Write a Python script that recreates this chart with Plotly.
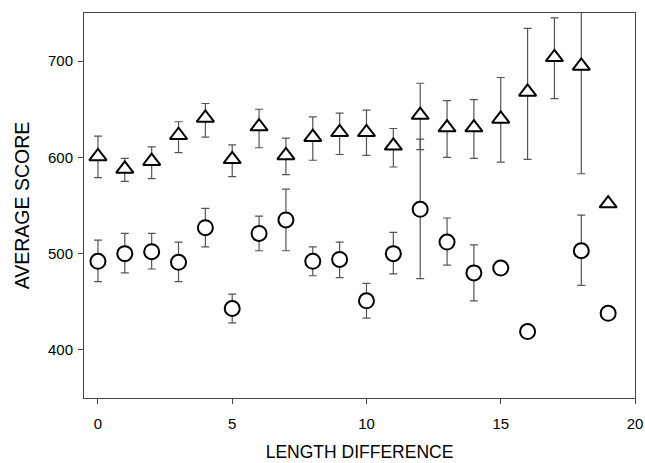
import plotly.graph_objects as go

# Triangle series
tri_x = list(range(20))
tri_y = [601, 588, 596, 623, 641, 598, 632, 602, 621, 626, 626, 612, 644, 631, 631, 640, 668, 704, 695, 552]
tri_up = [21, 11, 15, 14, 15, 15, 18, 18, 21, 20, 23, 18, 33, 28, 29, 43, 66, 41, 112, 0]
tri_dn = [22, 13, 18, 18, 20, 18, 22, 20, 24, 23, 24, 22, 36, 31, 32, 45, 70, 43, 112, 0]

# Circle series
cir_x = [0, 1, 2, 3, 4, 5, 6, 7, 8, 9, 10, 11, 12, 13, 14, 15, 16, 18, 19]
cir_y = [492, 500, 502, 491, 527, 443, 521, 535, 492, 494, 451, 500, 546, 512, 480, 485, 419, 503, 438]
cir_up = [22, 21, 19, 21, 20, 15, 18, 32, 15, 18, 18, 22, 73, 25, 29, 0, 0, 37, 0]
cir_dn = [21, 20, 18, 20, 20, 15, 18, 32, 15, 19, 18, 21, 72, 24, 29, 0, 0, 36, 0]

x_ticks = [0, 5, 10, 15, 20]
y_ticks = [400, 500, 600, 700]

err_color = "#555555"

fig = go.Figure()
fig.add_trace(go.Scatter(
    x=tri_x, y=tri_y, mode="markers",
    marker=dict(symbol="triangle-up", size=15, color="white",
                line=dict(color="black", width=2)),
    error_y=dict(type="data", array=tri_up, arrayminus=tri_dn, symmetric=False,
                 color=err_color, thickness=1.2, width=4),
    showlegend=False,
))
fig.add_trace(go.Scatter(
    x=cir_x, y=cir_y, mode="markers",
    marker=dict(symbol="circle", size=15, color="white",
                line=dict(color="black", width=2)),
    error_y=dict(type="data", array=cir_up, arrayminus=cir_dn, symmetric=False,
                 color=err_color, thickness=1.2, width=4),
    showlegend=False,
))

font = dict(family="Liberation Sans, Arial, sans-serif", color="black")

fig.update_layout(
    width=645, height=463,
    margin=dict(l=84, r=10, t=13, b=65),
    paper_bgcolor="white", plot_bgcolor="white",
    font=font,
    xaxis=dict(
        range=[-0.52, 20], tickvals=x_ticks, automargin=False,
        showgrid=False, zeroline=False,
        showline=True, linecolor="#444444", linewidth=1, mirror=True,
        ticks="outside", ticklen=5, tickcolor="#444444",
        ticklabelstandoff=7,
        tickfont=dict(size=15, **font),
        title=dict(text="LENGTH DIFFERENCE", font=dict(size=17.5, **font), standoff=14),
    ),
    yaxis=dict(
        range=[350, 750], tickvals=y_ticks, automargin=False,
        showgrid=False, zeroline=False,
        showline=True, linecolor="#444444", linewidth=1, mirror=True,
        ticks="outside", ticklen=5, tickcolor="#444444",
        ticklabelstandoff=2,
        tickfont=dict(size=15, **font),
        title=dict(text="AVERAGE SCORE", font=dict(size=19.5, **font), standoff=13),
    ),
)

fig.write_html(
    "out.html",
    config={"displayModeBar": False},
    post_script="document.body.style.margin='0';document.body.style.overflow='hidden';",
)
